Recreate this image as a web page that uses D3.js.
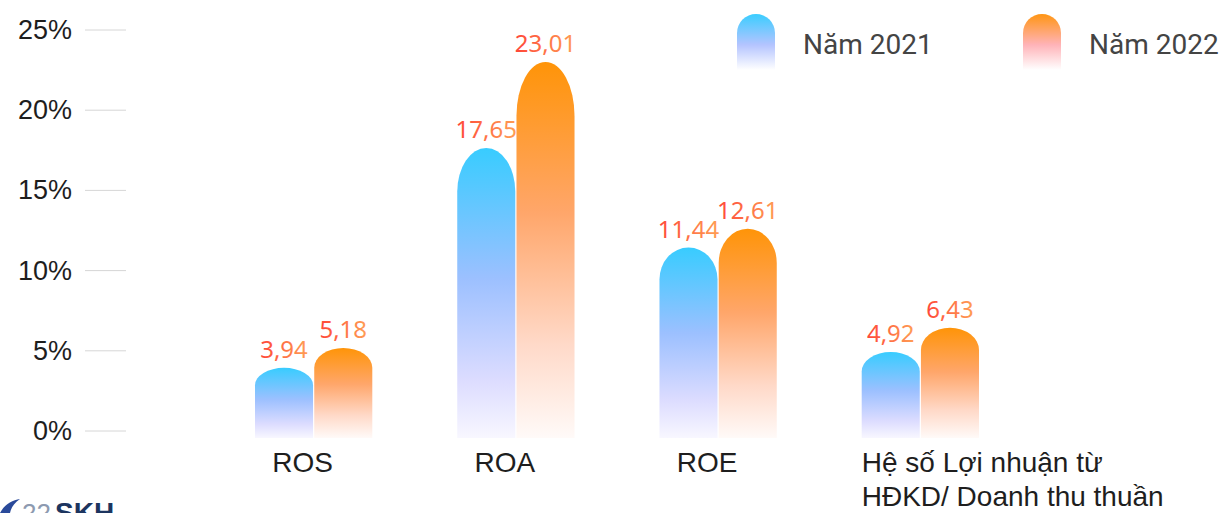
<!DOCTYPE html>
<html lang="vi">
  <head>
    <meta charset="utf-8">
    <title>ROS ROA ROE</title>
    <style>
      html, body { margin: 0; padding: 0; background: #fff; }
      svg { display: block; }
    </style>
  </head>
  <body>
    <svg width="1228" height="513"></svg>
    <script src="https://cdn.jsdelivr.net/npm/d3@7"></script>
    <script>
      const categories = ['ROS', 'ROA', 'ROE', 'Hệ số Lợi nhuận từ HĐKD/ Doanh thu thuần'];
      const years = ['Năm 2021', 'Năm 2022'];
      const values2021 = [3.94, 17.65, 11.44, 4.92];
      const values2022 = [5.18, 23.01, 12.61, 6.43];
      const yTicks = [0, 5, 10, 15, 20, 25];

      const svg = d3.select('svg');
      const defs = svg.append('defs');

      // gradients for the bars (vertical fade to white)
      const barStops = [
        [['0%', '#38ccff'], ['45%', '#9cc0ff'], ['80%', '#dcdcff'], ['100%', '#f8f7ff']],
        [['0%', '#ff9408'], ['40%', '#ffa66a'], ['75%', '#ffd9c8'], ['100%', '#fffaf8']]
      ];
      const legendStops = [
        [['0%', '#3acdff'], ['55%', '#b4c4ff'], ['100%', '#ffffff']],
        [['0%', '#ff9513'], ['55%', '#ffb3b8'], ['100%', '#ffffff']]
      ];
      function addGradient(id, stops) {
        const g = defs.append('linearGradient')
          .attr('id', id)
          .attr('x1', 0).attr('y1', 0).attr('x2', 0).attr('y2', 1);
        g.selectAll('stop').data(stops).enter()
          .append('stop')
          .attr('offset', d => d[0])
          .attr('stop-color', d => d[1]);
      }
      barStops.forEach((s, i) => addGradient('bar' + i, s));
      legendStops.forEach((s, i) => addGradient('leg' + i, s));

      const txt = defs.append('linearGradient')
        .attr('id', 'labelFill')
        .attr('x1', 0).attr('y1', 0).attr('x2', 1).attr('y2', 0);
      txt.append('stop').attr('offset', '0%').attr('stop-color', '#ff4638');
      txt.append('stop').attr('offset', '100%').attr('stop-color', '#ff9f55');

      const y = d3.scaleLinear().domain([0, 25]).range([431, 30]);

      const x = d3.scaleBand()
        .domain(categories)
        .range([255, 979])
        .paddingInner(0.42)
        .paddingOuter(0);

      const xs = d3.scaleBand()
        .domain([0, 1])
        .range([0, x.bandwidth()])
        .paddingInner(0.02);

      // y axis: labels + short gridlines
      const yAxis = svg.append('g').attr('class', 'y-axis');
      yAxis.selectAll('line')
        .data(yTicks).enter()
        .append('line')
        .attr('x1', 85).attr('x2', 126)
        .attr('y1', d => y(d)).attr('y2', d => y(d))
        .attr('stroke', '#d6d6d6')
        .attr('stroke-width', 1);
      yAxis.selectAll('text')
        .data(yTicks).enter()
        .append('text')
        .attr('x', 72)
        .attr('y', d => y(d) + 9)
        .attr('text-anchor', 'end')
        .attr('font-family', '"Liberation Sans", Arial, sans-serif')
        .attr('font-size', 27)
        .attr('fill', '#1e1e1e')
        .text(d => d + '%');

      function barPath(x0, w, top, bottom) {
        const h = bottom - top;
        const rx = w / 2;
        const ry = Math.min(rx * 1.9, 9 + 0.12 * h);
        return 'M' + x0 + ',' + bottom +
          'L' + x0 + ',' + (top + ry) +
          'A' + rx + ',' + ry + ' 0 0 1 ' + (x0 + w) + ',' + (top + ry) +
          'L' + (x0 + w) + ',' + bottom + 'Z';
      }

      const rows = categories.map((c, i) => ({
        cat: c,
        vals: [values2021[i], values2022[i]]
      }));

      const groups = svg.selectAll('g.group')
        .data(rows).enter()
        .append('g')
        .attr('class', 'group')
        .attr('transform', d => 'translate(' + x(d.cat) + ',0)');

      groups.selectAll('path')
        .data(d => d.vals).enter()
        .append('path')
        .attr('d', (d, i) => barPath(xs(i), xs.bandwidth(), y(d), y(0) + 7))
        .attr('fill', (d, i) => 'url(#bar' + i + ')');

      groups.selectAll('text.val')
        .data(d => d.vals).enter()
        .append('text')
        .attr('class', 'val')
        .attr('x', (d, i) => xs(i) + xs.bandwidth() / 2)
        .attr('y', d => y(d) - 10)
        .attr('text-anchor', 'middle')
        .attr('font-family', '"Noto Sans", sans-serif')
        .attr('font-size', 24)
        .attr('fill', 'url(#labelFill)')
        .text(d => d.toFixed(2).replace('.', ','));

      // category labels
      groups.each(function (d) {
        const g = d3.select(this);
        const t = g.append('text')
          .attr('font-family', '"Liberation Sans", Arial, sans-serif')
          .attr('font-size', 28)
          .attr('fill', '#1e1e1e');
        if (d.cat.length > 10) {
          const parts = d.cat.split('từ ');
          t.attr('text-anchor', 'start');
          t.append('tspan').attr('x', 0).attr('y', 472).text(parts[0] + 'từ');
          t.append('tspan').attr('x', 0).attr('y', 506).text(parts[1]);
        } else {
          t.attr('text-anchor', 'middle')
            .attr('x', x.bandwidth() / 2 - 11)
            .attr('y', 472)
            .text(d.cat);
        }
      });

      // legend
      const legend = svg.selectAll('g.legend')
        .data(years).enter()
        .append('g')
        .attr('class', 'legend')
        .attr('transform', (d, i) => 'translate(' + (737 + i * 286) + ',14)');
      legend.append('path')
        .attr('d', 'M0,56L0,19A19,19 0 0 1 38,19L38,56Z')
        .attr('fill', (d, i) => 'url(#leg' + i + ')');
      legend.append('text')
        .attr('x', 66)
        .attr('y', 40)
        .attr('font-family', 'Roboto, sans-serif')
        .attr('font-size', 28)
        .attr('fill', '#444')
        .text(d => d);

      // logo fragment at bottom-left (cropped by the frame, as in the source)
      const logo = svg.append('g').attr('class', 'logo');
      logo.append('path')
        .attr('d', 'M0,513 C4,505 12,500 20,499 C14,503 11,508 10,513 Z')
        .attr('fill', '#2a4a9a');
      logo.append('text')
        .attr('x', 22).attr('y', 522)
        .attr('font-family', '"Liberation Sans", Arial, sans-serif')
        .attr('font-size', 26)
        .attr('fill', '#8d9ab0')
        .text('22');
      logo.append('text')
        .attr('x', 55).attr('y', 522)
        .attr('font-family', '"Liberation Sans", Arial, sans-serif')
        .attr('font-weight', 'bold')
        .attr('font-size', 28)
        .attr('fill', '#1c355f')
        .text('SKH');
    </script>
  </body>
</html>
